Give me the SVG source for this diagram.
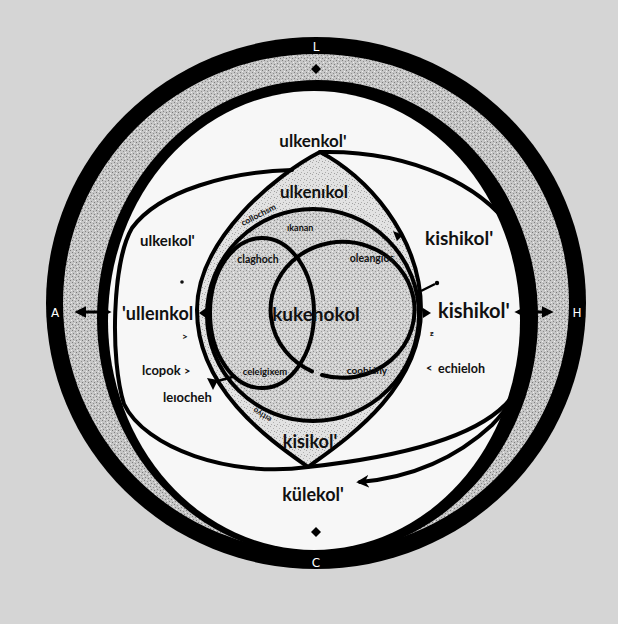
<svg xmlns="http://www.w3.org/2000/svg" width="618" height="624" viewBox="0 0 618 624">
<defs>
<pattern id="stB" width="6" height="6" patternUnits="userSpaceOnUse">
<rect width="6" height="6" fill="#c6c6c6"/><rect x="0" y="0" width="1" height="1" fill="#7e7e7e"/><rect x="3" y="1" width="1" height="1" fill="#8e8e8e"/><rect x="1" y="3" width="1" height="1" fill="#858585"/><rect x="4" y="4" width="1" height="1" fill="#7a7a7a"/><rect x="5" y="2" width="1" height="1" fill="#eeeeee"/><rect x="2" y="5" width="1" height="1" fill="#eeeeee"/>
</pattern>
<pattern id="stG" width="6" height="6" patternUnits="userSpaceOnUse">
<rect width="6" height="6" fill="#cfcfcf"/><rect x="0" y="0" width="1" height="1" fill="#8a8a8a"/><rect x="3" y="1" width="1" height="1" fill="#9a9a9a"/><rect x="1" y="3" width="1" height="1" fill="#909090"/><rect x="4" y="4" width="1" height="1" fill="#868686"/><rect x="5" y="2" width="1" height="1" fill="#f2f2f2"/><rect x="2" y="5" width="1" height="1" fill="#f2f2f2"/>
</pattern>
<pattern id="stL" width="6" height="6" patternUnits="userSpaceOnUse">
<rect width="6" height="6" fill="#e2e2e2"/><rect x="0" y="0" width="1" height="1" fill="#a6a6a6"/><rect x="3" y="2" width="1" height="1" fill="#b0b0b0"/><rect x="1" y="4" width="1" height="1" fill="#ababab"/><rect x="4" y="5" width="1" height="1" fill="#a0a0a0"/>
</pattern>
<marker id="ah" viewBox="0 0 10 10" refX="7" refY="5" markerWidth="4" markerHeight="4" orient="auto-start-reverse"><path d="M0,0 L10,5 L0,10 Z" fill="#000"/></marker>
<marker id="ah2" viewBox="0 0 10 10" refX="7" refY="5" markerWidth="3.2" markerHeight="3.2" orient="auto-start-reverse"><path d="M0,0 L10,5 L0,10 L3,5 Z" fill="#000"/></marker>
</defs>
<style>
.ln{fill:none;stroke:#000;stroke-width:4;stroke-linecap:round}
.t{font-family:Lato,"Liberation Sans",sans-serif;fill:#111}
.b{font-weight:700}
.s{font-weight:700}
.m{text-anchor:middle}
.w{fill:#fff;font-family:"DejaVu Sans",sans-serif;font-size:12px;text-anchor:middle}
.arr{stroke:#000;stroke-width:3;fill:none}
</style>
<rect width="618" height="624" fill="#d5d5d5"/>

<g id="frame">
<ellipse cx="316" cy="303" rx="270" ry="266" fill="#000"/>
<ellipse cx="316" cy="303" rx="253" ry="249" fill="url(#stB)"/>
<ellipse cx="317.5" cy="318" rx="220.5" ry="238" fill="#000"/>
<ellipse cx="314" cy="320.5" rx="206" ry="229.5" fill="#f7f7f7"/>
<text class="w" x="316" y="51">L</text>
<text class="w" x="316" y="567">C</text>
<text class="w" x="55" y="317">A</text>
<text class="w" x="577" y="317">H</text>
<path d="M316,64 L321,69 L316,74 L311,69 Z" fill="#000"/>
<path d="M316,527 L321,532 L316,537 L311,532 Z" fill="#000"/>
</g>

<g id="lemon">
<path d="M320,152 C365,175 421,235 421,310 C421,390 345,440 308,467 C270,440 197,390 197,310 C197,240 275,175 320,152 Z" fill="url(#stL)" stroke="#000" stroke-width="4" stroke-linejoin="round"/>
<text class="t b m" x="314" y="198" font-size="17">ulkenıkol</text>
<text class="t b m" x="310" y="448" font-size="18">kisikol'</text>
</g>

<g id="core">
<circle cx="313" cy="315" r="106" fill="url(#stG)" stroke="#000" stroke-width="4"/>
<ellipse cx="262" cy="313" rx="52" ry="75" class="ln"/>
<path d="M322,375 A72,68 0 1 0 312,371.4" class="ln"/>
<text class="t b m" x="316" y="321" font-size="19">kukenokol</text>
<text class="t s m" x="258" y="263" font-size="10.5">claghoch</text>
<text class="t s m" x="372" y="262" font-size="10.5">oleangios</text>
<text class="t s m" x="265" y="375" font-size="9.5">celeigixem</text>
<text class="t s m" x="367" y="374" font-size="10">coohiáhy</text>
<text class="t s" x="287" y="231" font-size="9">ıkanan</text>
<text class="t b" x="243" y="226" font-size="8.5" transform="rotate(-27 243 226)">collochsm</text>
<text class="t b" x="272" y="418" font-size="8" transform="rotate(212 272 418)">eıtlyo</text>
</g>

<g id="connectors">
<path class="ln" d="M292,170 C230,172 160,190 132,228 C112,262 110,360 124,404 C145,448 230,478 308,467 C390,458 470,440 505,405 C522,387 530,365 534,335"/>
<path class="ln" d="M320,152 C400,150 495,180 526,255 C546,310 532,385 492,425 C452,462 405,478 360,482" marker-end="url(#ah2)"/>
<line class="arr" x1="78" y1="312" x2="108" y2="312" marker-start="url(#ah)" marker-end="url(#ah)"/>
<line class="arr" x1="518" y1="312" x2="550" y2="312" marker-start="url(#ah)" marker-end="url(#ah)"/>
<polygon points="393,231 403,235 397,241" fill="#000"/>
<line x1="421" y1="291" x2="435" y2="284" stroke="#000" stroke-width="2.5"/>
<circle cx="437" cy="283" r="2.2" fill="#000"/>
<polygon points="423,308 431,313 423,318" fill="#000"/>
<polygon points="206,308 199,313 206,318" fill="#000"/>
<line x1="214" y1="382" x2="236" y2="376" stroke="#000" stroke-width="2.5"/>
<polygon points="207,378 218,380 213,390" fill="#000"/>
</g>

<g id="left-labels">
<text class="t b" x="140" y="246" font-size="15">ulkeıkol'</text>
<circle cx="182" cy="282" r="1.8" fill="#111"/>
<text class="t b" x="122" y="320" font-size="18">'ulleınkol</text>
<text class="t b" x="182" y="340" font-size="10">&gt;</text>
<text class="t s" x="142" y="375" font-size="13">lcopok</text>
<text class="t b" x="184" y="375" font-size="11">&gt;</text>
<text class="t s" x="163" y="402" font-size="13">leıocheh</text>
</g>

<g id="right-labels">
<text class="t b" x="425" y="245" font-size="19">kishikol'</text>
<text class="t b" x="438" y="318" font-size="20">kishikol'</text>
<text class="t b" x="430" y="336" font-size="8">ƶ</text>
<text class="t b" x="426" y="372" font-size="11">&lt;</text>
<text class="t s" x="438" y="373" font-size="12.5">echieloh</text>
</g>

<g id="top-label">
<text class="t b m" x="313" y="147" font-size="17">ulkenkol'</text>
</g>

<g id="bottom-label">
<text class="t b m" x="313" y="501" font-size="18">külekol'</text>
</g>
</svg>
